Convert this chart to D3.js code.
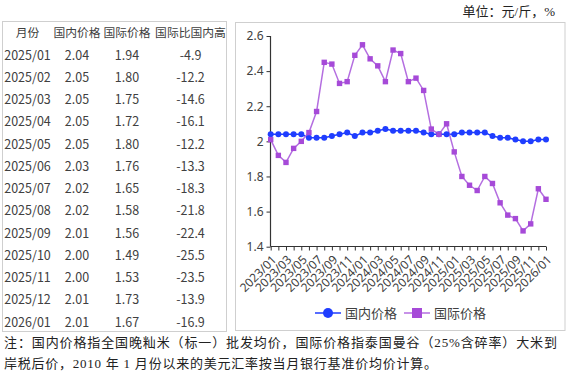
<!DOCTYPE html>
<html lang="zh">
<head>
<meta charset="utf-8">
<title>国内外大米价格</title>
<script src="https://cdn.jsdelivr.net/npm/d3@7"></script>
<style>
  body { margin: 0; background: #fff; }
  text { font-family: "Noto Sans CJK SC", "Noto Sans", sans-serif; }
  .note { font-family: "Liberation Serif", "Noto Sans CJK SC", serif; }
</style>
</head>
<body>
<script>
// chart data
var months = ["2023/01","2023/02","2023/03","2023/04","2023/05","2023/06","2023/07","2023/08","2023/09","2023/10","2023/11","2023/12",
              "2024/01","2024/02","2024/03","2024/04","2024/05","2024/06","2024/07","2024/08","2024/09","2024/10","2024/11","2024/12",
              "2025/01","2025/02","2025/03","2025/04","2025/05","2025/06","2025/07","2025/08","2025/09","2025/10","2025/11","2025/12",
              "2026/01"];
var domestic = [2.04,2.04,2.04,2.04,2.04,2.02,2.02,2.02,2.03,2.04,2.05,2.03,
                2.05,2.05,2.06,2.07,2.06,2.06,2.06,2.06,2.05,2.04,2.04,2.04,
                2.04,2.05,2.05,2.05,2.05,2.03,2.02,2.02,2.01,2.00,2.00,2.01,
                2.01];
var international = [2.01,1.92,1.88,1.96,2.00,2.05,2.17,2.45,2.44,2.33,2.34,2.49,
                     2.55,2.47,2.43,2.34,2.52,2.50,2.34,2.36,2.29,2.07,2.04,2.10,
                     1.94,1.80,1.75,1.72,1.80,1.76,1.65,1.58,1.56,1.49,1.53,1.73,
                     1.67];
var yTicks = [1.4, 1.6, 1.8, 2.0, 2.2, 2.4, 2.6];

// table data
var tableHeader = ["月份", "国内价格", "国际价格", "国际比国内高"];
var tableMonths = ["2025/01","2025/02","2025/03","2025/04","2025/05","2025/06","2025/07","2025/08","2025/09","2025/10","2025/11","2025/12","2026/01"];
var tableDomestic = ["2.04","2.05","2.05","2.05","2.05","2.03","2.02","2.02","2.01","2.00","2.00","2.01","2.01"];
var tableIntl = ["1.94","1.80","1.75","1.72","1.80","1.76","1.65","1.58","1.56","1.49","1.53","1.73","1.67"];
var tableDiff = ["-4.9","-12.2","-14.6","-16.1","-12.2","-13.3","-18.3","-21.8","-22.4","-25.5","-23.5","-13.9","-16.9"];

var w = 568, h = 380;
var textColor = "#404040";
var blue = "#1f3dff", purple = "#a64ad8", purpleLine = "#b46ee0";

var svg = d3.select("body").append("svg")
    .attr("width", w)
    .attr("height", h);

// unit
svg.append("text")
    .attr("class", "note")
    .attr("x", 555).attr("y", 16)
    .attr("text-anchor", "end")
    .attr("font-size", 13)
    .attr("fill", "#222")
    .text("单位：元/斤，%");

// ---- table panel
svg.append("rect")
    .attr("x", 2.5).attr("y", 21.5)
    .attr("width", 224).attr("height", 310)
    .attr("fill", "none").attr("stroke", "#cfcfcf");

var colX = [27.5, 77, 127, 190.5];
var rowY = d3.scaleLinear().domain([0, 13]).range([33, 322]);

var tbl = svg.append("g").attr("fill", textColor).attr("text-anchor", "middle");
tbl.selectAll(".head").data(tableHeader).enter().append("text")
    .attr("class", "head")
    .attr("x", function (d, i) { return colX[i]; })
    .attr("y", rowY(0))
    .attr("dy", "0.36em")
    .attr("font-size", 11.8)
    .text(function (d) { return d; });

var rows = tableMonths.map(function (m, i) {
    return [m, tableDomestic[i], tableIntl[i], tableDiff[i]];
});
rows.forEach(function (r, i) {
    tbl.selectAll(".r" + i).data(r).enter().append("text")
        .attr("x", function (d, j) { return colX[j]; })
        .attr("y", rowY(i + 1))
        .attr("dy", "0.36em")
        .attr("font-size", 12.5)
        .text(function (d) { return d; });
});

// ---- chart panel
svg.append("rect")
    .attr("x", 235.5).attr("y", 22.5)
    .attr("width", 329.5).attr("height", 308)
    .attr("fill", "none").attr("stroke", "#cfcfcf");

var x = d3.scalePoint().domain(months).range([270.7, 546]);
var y = d3.scaleLinear().domain([1.4, 2.6]).range([246.7, 36]);

var yAxis = svg.append("g")
    .attr("transform", "translate(270.5,0)")
    .call(d3.axisLeft(y).tickValues(yTicks).tickSize(4).tickFormat(d3.format("~g")));
var xAxis = svg.append("g")
    .attr("transform", "translate(0,246.5)")
    .call(d3.axisBottom(x).tickSize(4).tickFormat(function (d, i) { return i % 2 === 0 ? d : ""; }));

[yAxis, xAxis].forEach(function (a) {
    a.select(".domain").attr("stroke", "#333").attr("stroke-width", 1.2);
    a.selectAll(".tick line").attr("stroke", "#333");
    a.selectAll("text").attr("fill", textColor)
        .style("font-family", "'Noto Sans', sans-serif");
});
yAxis.selectAll("text").attr("font-size", 12).attr("x", -7);
xAxis.select(".domain").attr("d", "M270.7,0H546");
xAxis.selectAll("text")
    .attr("font-size", 12)
    .attr("text-anchor", "end")
    .attr("x", 0).attr("y", 0).attr("dy", "0.35em")
    .attr("transform", "translate(3,11) rotate(-45)");
yAxis.select(".domain").attr("d", "M0,36V246.7");

var line = d3.line()
    .x(function (d, i) { return x(months[i]); })
    .y(function (d) { return y(d); });

svg.append("path").datum(domestic)
    .attr("d", line).attr("fill", "none")
    .attr("stroke", blue).attr("stroke-width", 1.5);
svg.append("path").datum(international)
    .attr("d", line).attr("fill", "none")
    .attr("stroke", purpleLine).attr("stroke-width", 1.5);

svg.selectAll(".dot").data(domestic).enter().append("circle")
    .attr("class", "dot")
    .attr("cx", function (d, i) { return x(months[i]); })
    .attr("cy", function (d) { return y(d); })
    .attr("r", 3)
    .attr("fill", blue);
svg.selectAll(".sq").data(international).enter().append("rect")
    .attr("class", "sq")
    .attr("x", function (d, i) { return x(months[i]) - 2.7; })
    .attr("y", function (d) { return y(d) - 2.7; })
    .attr("width", 5.4).attr("height", 5.4)
    .attr("fill", purple);

// legend
var legend = [
    { name: "国内价格", color: blue, shape: "circle", x: 315 },
    { name: "国际价格", color: purpleLine, shape: "rect", x: 404 }
];
var lg = svg.selectAll(".lg").data(legend).enter().append("g")
    .attr("transform", function (d) { return "translate(" + d.x + ",313)"; });
lg.append("line").attr("x1", 0).attr("x2", 26)
    .attr("stroke", function (d) { return d.color; }).attr("stroke-width", 1.5);
lg.filter(function (d) { return d.shape === "circle"; }).append("circle")
    .attr("cx", 13).attr("r", 5).attr("fill", blue);
lg.filter(function (d) { return d.shape === "rect"; }).append("rect")
    .attr("x", 8).attr("y", -5).attr("width", 10).attr("height", 10).attr("fill", purple);
lg.append("text").attr("x", 30).attr("dy", "0.36em")
    .attr("font-size", 13).attr("fill", textColor)
    .text(function (d) { return d.name; });

// footnote
var notes = [
    { t: "注：国内价格指全国晚籼米（标一）批发均价，国际价格指泰国曼谷（25%含碎率）大米到", y: 347, len: 553 },
    { t: "岸税后价，2010 年 1 月份以来的美元汇率按当月银行基准价均价计算。", y: 368, len: 433 }
];
svg.selectAll(".fn").data(notes).enter().append("text")
    .attr("class", "note")
    .attr("x", 4)
    .attr("y", function (d) { return d.y; })
    .attr("font-size", 13)
    .attr("fill", "#222")
    .attr("textLength", function (d) { return d.len; })
    .attr("lengthAdjust", "spacing")
    .text(function (d) { return d.t; });
</script>
</body>
</html>
